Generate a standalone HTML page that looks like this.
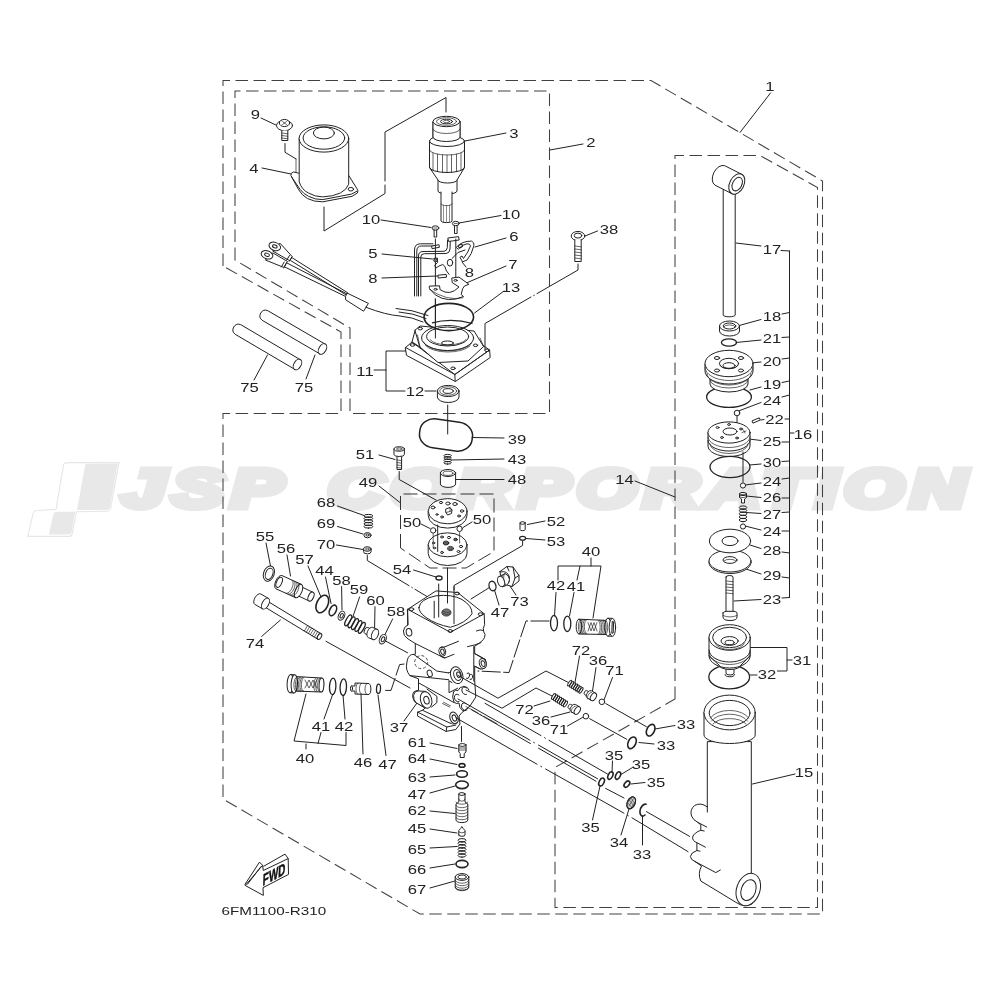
<!DOCTYPE html>
<html lang="en">
<head>
<meta charset="utf-8">
<title>Parts diagram 6FM1100-R310</title>
<style>
html,body{margin:0;padding:0;background:#fff}
body{width:1000px;height:1000px;overflow:hidden}
svg{display:block;will-change:transform}
.l{fill:none;stroke:#222;stroke-width:1;stroke-linecap:round;stroke-linejoin:round}
.f{fill:#fff;stroke:#222;stroke-width:1;stroke-linecap:round;stroke-linejoin:round}
.t{fill:none;stroke:#222;stroke-width:.7;stroke-linecap:round}
.k{fill:none;stroke:#222;stroke-width:1.6;stroke-linecap:round;stroke-linejoin:round}
.ld{fill:none;stroke:#222;stroke-width:1;stroke-dasharray:19 2.5}
.m{fill:none;stroke:#222;stroke-width:1.3}
.g2{fill:#ccc;stroke:#222;stroke-width:1}
.g{fill:#777;stroke:#222;stroke-width:.8}
.d{fill:none;stroke:#404040;stroke-width:1.05;stroke-dasharray:12.5 5.5}
.d2{fill:none;stroke:#333;stroke-width:1;stroke-dasharray:14 5}
.c{fill:none;stroke:#222;stroke-width:.9;stroke-dasharray:22 3 2 3}
.fine{fill:none;stroke:#222;stroke-width:.5}
.h{fill:none;stroke:#222;stroke-width:.8;stroke-dasharray:3 2}
.n{font-family:"Liberation Sans",Arial,Helvetica,sans-serif;font-size:13px;fill:#222;text-anchor:middle}
.w{font-family:"Liberation Sans",Arial,Helvetica,sans-serif;font-size:53px;font-weight:bold;font-style:italic;fill:#e8e8e8;stroke:#e8e8e8;stroke-width:7px;stroke-linejoin:miter;letter-spacing:5px}
.fw{font-family:"Liberation Sans",Arial,Helvetica,sans-serif;font-size:16.5px;font-weight:bold;fill:#111;stroke:#111;stroke-width:.5px}
.id{font-family:"Liberation Sans",Arial,Helvetica,sans-serif;font-size:11.7px;fill:#222}
</style>
</head>
<body>
<svg width="1000" height="1000" viewBox="0 0 1000 1000">
<rect width="1000" height="1000" fill="#fff"/>
<g class="wm">
<path d="M69,462.6 H119 L110.6,508.5 Q110,511.2 107,511.2 L76.4,511.8 L72.2,534 Q71.6,536.4 69,536.4 H27.8 L33.2,513 Q33.8,510.6 37,510.5 L56,509.4 L63.5,465 Q64,462.6 69,462.6 Z" fill="#fff" stroke="#e6e6e6" stroke-width="1.1"/>
<path d="M85.4,463.8 L117.8,463.4 L109.9,507.5 Q109.4,510 106.5,510 H77 Z" fill="#e8e8e8"/>
<path d="M57.5,511.8 H75.2 L71.5,532.5 Q71,534.6 68.5,534.6 H48.8 L53.5,514 Q54,511.8 57.5,511.8 Z" fill="#e8e8e8"/>
<text class="w" x="122" y="506.5" textLength="168" lengthAdjust="spacingAndGlyphs">JSP</text>
<text class="w" x="328" y="506.5" textLength="645" lengthAdjust="spacingAndGlyphs">CORPORATION</text>
</g>
<g id="frames">
<path class="d" d="M223,266 V80.5 H651 L822.5,181 V914 H420 L223,799 V413.5 H341 V332 Z"/>
<path class="d" d="M235,260 V91 H549.5 V413.5 H350 V328 Z"/>
<path class="d" d="M675,699 V155.5 H760 L817.5,187.5 V907.5 H555 V767.5 Z"/>
<path class="d2" d="M400.5,548 V494 H494 V551.5 L466,568 H430 Z"/>
</g>
<g id="labels">
<text class="n" transform="translate(770 90.7) scale(1.28 1)">1</text>
<text class="n" transform="translate(591 147.2) scale(1.28 1)">2</text>
<text class="n" transform="translate(514 137.7) scale(1.28 1)">3</text>
<text class="n" transform="translate(254 172.7) scale(1.28 1)">4</text>
<text class="n" transform="translate(255.5 118.7) scale(1.28 1)">9</text>
<text class="n" transform="translate(371 223.7) scale(1.28 1)">10</text>
<text class="n" transform="translate(511 219.2) scale(1.28 1)">10</text>
<text class="n" transform="translate(373 257.7) scale(1.28 1)">5</text>
<text class="n" transform="translate(514 240.7) scale(1.28 1)">6</text>
<text class="n" transform="translate(513 269.2) scale(1.28 1)">7</text>
<text class="n" transform="translate(373 282.7) scale(1.28 1)">8</text>
<text class="n" transform="translate(469.5 277.2) scale(1.28 1)">8</text>
<text class="n" transform="translate(511 292.2) scale(1.28 1)">13</text>
<text class="n" transform="translate(609 233.7) scale(1.28 1)">38</text>
<text class="n" transform="translate(249.5 391.7) scale(1.28 1)">75</text>
<text class="n" transform="translate(304 391.7) scale(1.28 1)">75</text>
<text class="n" transform="translate(365 375.7) scale(1.28 1)">11</text>
<text class="n" transform="translate(415 395.7) scale(1.28 1)">12</text>
<text class="n" transform="translate(517 443.7) scale(1.28 1)">39</text>
<text class="n" transform="translate(517 463.7) scale(1.28 1)">43</text>
<text class="n" transform="translate(517 484.2) scale(1.28 1)">48</text>
<text class="n" transform="translate(365 458.7) scale(1.28 1)">51</text>
<text class="n" transform="translate(368 487.2) scale(1.28 1)">49</text>
<text class="n" transform="translate(326 507.2) scale(1.28 1)">68</text>
<text class="n" transform="translate(326 527.7) scale(1.28 1)">69</text>
<text class="n" transform="translate(326 548.7) scale(1.28 1)">70</text>
<text class="n" transform="translate(412 526.7) scale(1.28 1)">50</text>
<text class="n" transform="translate(482 523.7) scale(1.28 1)">50</text>
<text class="n" transform="translate(556 525.7) scale(1.28 1)">52</text>
<text class="n" transform="translate(556 545.7) scale(1.28 1)">53</text>
<text class="n" transform="translate(402 573.7) scale(1.28 1)">54</text>
<text class="n" transform="translate(624.5 483.7) scale(1.28 1)">14</text>
<text class="n" transform="translate(265 541.2) scale(1.28 1)">55</text>
<text class="n" transform="translate(286 553.2) scale(1.28 1)">56</text>
<text class="n" transform="translate(304.5 564.2) scale(1.28 1)">57</text>
<text class="n" transform="translate(324.5 575.2) scale(1.28 1)">44</text>
<text class="n" transform="translate(341.5 584.7) scale(1.28 1)">58</text>
<text class="n" transform="translate(359 594.2) scale(1.28 1)">59</text>
<text class="n" transform="translate(375.5 604.7) scale(1.28 1)">60</text>
<text class="n" transform="translate(396 615.7) scale(1.28 1)">58</text>
<text class="n" transform="translate(255 647.7) scale(1.28 1)">74</text>
<text class="n" transform="translate(500 617.2) scale(1.28 1)">47</text>
<text class="n" transform="translate(519.5 605.7) scale(1.28 1)">73</text>
<text class="n" transform="translate(591 555.7) scale(1.28 1)">40</text>
<text class="n" transform="translate(556 590.2) scale(1.28 1)">42</text>
<text class="n" transform="translate(576 590.7) scale(1.28 1)">41</text>
<text class="n" transform="translate(581 654.7) scale(1.28 1)">72</text>
<text class="n" transform="translate(598 665.2) scale(1.28 1)">36</text>
<text class="n" transform="translate(614.5 675.2) scale(1.28 1)">71</text>
<text class="n" transform="translate(524.5 714.2) scale(1.28 1)">72</text>
<text class="n" transform="translate(541 724.7) scale(1.28 1)">36</text>
<text class="n" transform="translate(559 734.2) scale(1.28 1)">71</text>
<text class="n" transform="translate(321 730.7) scale(1.28 1)">41</text>
<text class="n" transform="translate(344 730.7) scale(1.28 1)">42</text>
<text class="n" transform="translate(305 762.7) scale(1.28 1)">40</text>
<text class="n" transform="translate(363 767.2) scale(1.28 1)">46</text>
<text class="n" transform="translate(387.5 768.7) scale(1.28 1)">47</text>
<text class="n" transform="translate(399 732.2) scale(1.28 1)">37</text>
<text class="n" transform="translate(417 747.2) scale(1.28 1)">61</text>
<text class="n" transform="translate(417 762.7) scale(1.28 1)">64</text>
<text class="n" transform="translate(417 782.2) scale(1.28 1)">63</text>
<text class="n" transform="translate(417 798.7) scale(1.28 1)">47</text>
<text class="n" transform="translate(417 815.2) scale(1.28 1)">62</text>
<text class="n" transform="translate(417 832.7) scale(1.28 1)">45</text>
<text class="n" transform="translate(417 853.7) scale(1.28 1)">65</text>
<text class="n" transform="translate(417 873.7) scale(1.28 1)">66</text>
<text class="n" transform="translate(417 893.7) scale(1.28 1)">67</text>
<text class="n" transform="translate(686 728.7) scale(1.28 1)">33</text>
<text class="n" transform="translate(666 750.2) scale(1.28 1)">33</text>
<text class="n" transform="translate(614 759.7) scale(1.28 1)">35</text>
<text class="n" transform="translate(641 768.7) scale(1.28 1)">35</text>
<text class="n" transform="translate(656 787.2) scale(1.28 1)">35</text>
<text class="n" transform="translate(590.5 831.7) scale(1.28 1)">35</text>
<text class="n" transform="translate(619 847.2) scale(1.28 1)">34</text>
<text class="n" transform="translate(642 858.7) scale(1.28 1)">33</text>
<text class="n" transform="translate(804 777.2) scale(1.28 1)">15</text>
<text class="n" transform="translate(772 253.7) scale(1.28 1)">17</text>
<text class="n" transform="translate(772 320.7) scale(1.28 1)">18</text>
<text class="n" transform="translate(772 342.7) scale(1.28 1)">21</text>
<text class="n" transform="translate(772 365.7) scale(1.28 1)">20</text>
<text class="n" transform="translate(772 389.2) scale(1.28 1)">19</text>
<text class="n" transform="translate(772 404.7) scale(1.28 1)">24</text>
<text class="n" transform="translate(774.5 424.2) scale(1.28 1)">22</text>
<text class="n" transform="translate(803 438.7) scale(1.28 1)">16</text>
<text class="n" transform="translate(772 445.7) scale(1.28 1)">25</text>
<text class="n" transform="translate(772 467.2) scale(1.28 1)">30</text>
<text class="n" transform="translate(772 485.7) scale(1.28 1)">24</text>
<text class="n" transform="translate(772 502.2) scale(1.28 1)">26</text>
<text class="n" transform="translate(772 518.7) scale(1.28 1)">27</text>
<text class="n" transform="translate(772 535.7) scale(1.28 1)">24</text>
<text class="n" transform="translate(772 554.7) scale(1.28 1)">28</text>
<text class="n" transform="translate(772 579.7) scale(1.28 1)">29</text>
<text class="n" transform="translate(772 603.7) scale(1.28 1)">23</text>
<text class="n" transform="translate(802 664.7) scale(1.28 1)">31</text>
<text class="n" transform="translate(767 678.7) scale(1.28 1)">32</text>
<text class="id" x="221.6" y="914.7" textLength="104.5" lengthAdjust="spacingAndGlyphs">6FM1100-R310</text>
</g>
<g id="leaders">
<line class="l" x1="770.5" y1="93" x2="740" y2="132.5"/>
<line class="l" x1="550" y1="150" x2="583" y2="144"/>
<line class="l" x1="465" y1="141" x2="506" y2="133"/>
<line class="l" x1="262" y1="168" x2="291" y2="174"/>
<line class="l" x1="261" y1="118" x2="278" y2="126"/>
<line class="l" x1="381" y1="220" x2="431" y2="227.5"/>
<line class="l" x1="459" y1="223" x2="501" y2="215.5"/>
<line class="l" x1="382" y1="254" x2="432.5" y2="259"/>
<line class="l" x1="475" y1="247" x2="506" y2="238"/>
<line class="l" x1="467.5" y1="282.5" x2="506" y2="266"/>
<line class="l" x1="382" y1="278" x2="437.5" y2="276"/>
<line class="l" x1="462" y1="262" x2="466" y2="267"/>
<line class="l" x1="474.5" y1="313" x2="504" y2="291"/>
<line class="l" x1="585" y1="236" x2="597.5" y2="231"/>
<line class="l" x1="267.5" y1="355" x2="254" y2="380"/>
<line class="l" x1="315" y1="355" x2="306" y2="379"/>
<line class="l" x1="472" y1="437.5" x2="504" y2="438"/>
<line class="l" x1="451" y1="460" x2="504" y2="459"/>
<line class="l" x1="455.5" y1="479.5" x2="504" y2="479.5"/>
<line class="l" x1="379" y1="455" x2="395" y2="459.5"/>
<line class="l" x1="379" y1="486" x2="400" y2="502.5"/>
<line class="l" x1="337.5" y1="506" x2="364" y2="515.5"/>
<line class="l" x1="337.5" y1="526.5" x2="363" y2="534"/>
<line class="l" x1="336.5" y1="545" x2="363" y2="549.5"/>
<line class="l" x1="421" y1="524" x2="430" y2="528.5"/>
<line class="l" x1="463" y1="527.5" x2="472" y2="522"/>
<line class="l" x1="527.5" y1="524.5" x2="545" y2="521"/>
<line class="l" x1="526" y1="538.5" x2="545" y2="540"/>
<line class="l" x1="413.5" y1="570" x2="436" y2="577"/>
<line class="l" x1="635" y1="481" x2="675" y2="497"/>
<line class="l" x1="266" y1="543" x2="270.5" y2="566"/>
<line class="l" x1="287" y1="555" x2="290.5" y2="576"/>
<line class="l" x1="308" y1="566" x2="321" y2="597"/>
<line class="l" x1="325.5" y1="577" x2="331" y2="603.5"/>
<line class="l" x1="341.6" y1="586.5" x2="342" y2="610"/>
<line class="l" x1="359.6" y1="597" x2="353" y2="616.5"/>
<line class="l" x1="375" y1="606.7" x2="374.6" y2="627.6"/>
<line class="l" x1="392.6" y1="619" x2="384" y2="636.5"/>
<line class="l" x1="261.7" y1="636.4" x2="280.4" y2="620"/>
<line class="l" x1="494.5" y1="590" x2="499" y2="605"/>
<line class="l" x1="510" y1="586" x2="516" y2="595"/>
<line class="l" x1="556" y1="592.5" x2="554.5" y2="616"/>
<line class="l" x1="574" y1="592.5" x2="569.5" y2="616"/>
<line class="l" x1="579.5" y1="656" x2="575" y2="682.5"/>
<line class="l" x1="596" y1="667.5" x2="592.5" y2="691"/>
<line class="l" x1="612.5" y1="677.5" x2="604" y2="700"/>
<line class="l" x1="534" y1="706" x2="550" y2="701"/>
<line class="l" x1="551" y1="717" x2="570" y2="712"/>
<line class="l" x1="567.5" y1="726" x2="582.5" y2="717.5"/>
<line class="l" x1="332.5" y1="695" x2="324" y2="719"/>
<line class="l" x1="343" y1="695" x2="345" y2="719"/>
<line class="l" x1="361" y1="694" x2="363" y2="754"/>
<line class="l" x1="378" y1="695" x2="386" y2="755.5"/>
<line class="l" x1="404" y1="721" x2="417" y2="703"/>
<line class="l" x1="430" y1="743" x2="457" y2="748.5"/>
<line class="l" x1="430" y1="759" x2="457" y2="764.5"/>
<line class="l" x1="430" y1="777" x2="455" y2="775"/>
<line class="l" x1="430" y1="793" x2="455" y2="786"/>
<line class="l" x1="430" y1="811" x2="455" y2="813.5"/>
<line class="l" x1="430" y1="829" x2="457" y2="833"/>
<line class="l" x1="430" y1="848" x2="457" y2="846.5"/>
<line class="l" x1="430" y1="868" x2="455" y2="864"/>
<line class="l" x1="430" y1="888" x2="455" y2="881"/>
<line class="l" x1="655" y1="729" x2="675" y2="725.5"/>
<line class="l" x1="639" y1="742.5" x2="654" y2="744"/>
<line class="l" x1="612.5" y1="761" x2="612" y2="772.5"/>
<line class="l" x1="632.5" y1="767.5" x2="621" y2="774.5"/>
<line class="l" x1="631" y1="784" x2="645" y2="782.5"/>
<line class="l" x1="600" y1="786" x2="592.5" y2="820"/>
<line class="l" x1="629" y1="809" x2="621" y2="835"/>
<line class="l" x1="642.5" y1="816" x2="642.5" y2="845"/>
<line class="l" x1="752.5" y1="784" x2="795" y2="774"/>
<line class="l" x1="736" y1="243" x2="761" y2="246"/>
<line class="l" x1="781" y1="250.5" x2="789.5" y2="251"/>
<line class="l" x1="737.5" y1="326" x2="761" y2="319.5"/>
<line class="l" x1="782" y1="314" x2="789.5" y2="312.5"/>
<line class="l" x1="736" y1="342.5" x2="761" y2="340"/>
<line class="l" x1="782" y1="337.5" x2="789.5" y2="337"/>
<line class="l" x1="751" y1="363" x2="761" y2="362"/>
<line class="l" x1="782" y1="359" x2="789.5" y2="358"/>
<line class="l" x1="750" y1="390" x2="761" y2="387"/>
<line class="l" x1="782" y1="382.5" x2="789.5" y2="381"/>
<line class="l" x1="738.5" y1="411" x2="761" y2="402.5"/>
<line class="l" x1="782" y1="397" x2="789.5" y2="395"/>
<line class="l" x1="761" y1="420" x2="764" y2="419.5"/>
<line class="l" x1="785" y1="419" x2="789.5" y2="419"/>
<line class="l" x1="789.5" y1="433" x2="794" y2="433"/>
<line class="l" x1="749" y1="439" x2="761" y2="440.5"/>
<line class="l" x1="782" y1="442" x2="789.5" y2="442"/>
<line class="l" x1="749.5" y1="465" x2="761" y2="464"/>
<line class="l" x1="782" y1="461.5" x2="789.5" y2="461"/>
<line class="l" x1="745" y1="485" x2="761" y2="483"/>
<line class="l" x1="782" y1="479" x2="789.5" y2="478"/>
<line class="l" x1="746" y1="496" x2="761" y2="497.5"/>
<line class="l" x1="782" y1="498" x2="789.5" y2="498"/>
<line class="l" x1="746" y1="512.5" x2="761" y2="513.5"/>
<line class="l" x1="782" y1="512.5" x2="789.5" y2="512"/>
<line class="l" x1="745" y1="526" x2="761" y2="530"/>
<line class="l" x1="782" y1="531" x2="789.5" y2="531"/>
<line class="l" x1="750" y1="545" x2="761" y2="548.5"/>
<line class="l" x1="782" y1="552" x2="789.5" y2="553"/>
<line class="l" x1="746" y1="569" x2="761" y2="574"/>
<line class="l" x1="782" y1="577" x2="789.5" y2="578"/>
<line class="l" x1="734" y1="601" x2="761" y2="599.5"/>
<line class="l" x1="782" y1="598" x2="789.5" y2="597.5"/>
<line class="l" x1="750" y1="675" x2="757" y2="675"/>
<line class="l" x1="789.5" y1="251" x2="789.5" y2="597.5"/>
<path class="l" d="M750,647.5 L787,647.5 L787,671 L777.5,671"/>
<line class="l" x1="787" y1="660" x2="792" y2="660"/>
<path class="l" d="M406,351 L386,351 L386,391 L405,391"/>
<line class="l" x1="374" y1="370" x2="386" y2="370"/>
<line class="l" x1="425" y1="391" x2="436" y2="391"/>
<path class="l" d="M558,580 L558,566 L601,566 L593,618"/>
<line class="l" x1="591" y1="558" x2="591" y2="566"/>
<line class="l" x1="580" y1="566" x2="577" y2="580"/>
<path class="l" d="M306,694 L294,741 L346,745.5 L346,732.5"/>
<line class="l" x1="306" y1="744" x2="306" y2="749"/>
<line class="l" x1="321" y1="732.5" x2="318" y2="743.5"/>
</g>
<g id="motor">
<ellipse class="f" cx="284.5" cy="125.5" rx="8" ry="5.2"/>
<ellipse class="f" cx="284.5" cy="123" rx="5.2" ry="3.6"/>
<line class="t" x1="282.5" y1="121.5" x2="286.5" y2="124.5"/>
<line class="t" x1="286.5" y1="121.5" x2="282.5" y2="124.5"/>
<path class="f" d="M281.8,130.5 V140.5 H287.8 V130.5"/>
<line class="t" x1="281.8" y1="133" x2="287.8" y2="133.8"/>
<line class="t" x1="281.8" y1="135.5" x2="287.8" y2="136.3"/>
<line class="t" x1="281.8" y1="138" x2="287.8" y2="138.8"/>
<path class="l" d="M285,143.5 L285,152.3 L296,158.9"/>
<path class="f" d="M293.1,172.1 Q290.5,173 290.9,175.4 L298.6,189.7 Q302,195.5 307.4,198.5 Q314,202 322.8,201.8 L352,196.3 L357.5,193 Q358.6,190.5 356.9,188.6 L348.7,175.4 L299.2,173.2 Z"/>
<path class="l" d="M291.6,177 L300.3,189.7 Q304,194.2 308.5,196.3 Q315,199.8 322.8,199.6 L351.4,194.1 L357,191.2"/>
<ellipse class="l" cx="350.9" cy="189.2" rx="2.7" ry="1.8"/>
<path class="f" d="M299.2,138.5 V182 Q302,190 308.5,193 Q315,196.9 322.8,196.9 Q333,196.5 340.4,193 Q347,189.5 348.7,184.2 V138.5 Z"/>
<ellipse class="f" cx="323.9" cy="138.5" rx="24.8" ry="13.6"/>
<ellipse class="l" cx="323.9" cy="138" rx="20.8" ry="11.2"/>
<ellipse class="l" cx="323.9" cy="133" rx="10.5" ry="5.9"/>
<line class="t" x1="296" y1="159" x2="296" y2="172"/>
<path class="l" d="M324,207 L324,231 L385,193.5 L385,185"/>
<path class="l" d="M385,181 L385,132 L446,97.5 L446,112"/>
<path class="f" d="M438,180 V191 A9.5,3 0 0 0 457,191 V180"/>
<path class="f" d="M441,192 V221 A5.5,1.6 0 0 0 452,221 V192"/>
<line class="fine" x1="443.5" y1="205" x2="443.5" y2="222"/>
<line class="fine" x1="446.5" y1="205" x2="446.5" y2="222"/>
<line class="fine" x1="449.5" y1="205" x2="449.5" y2="222"/>
<path class="t" d="M441,204 A5.5,1.6 0 0 0 452,204"/>
<path class="f" d="M429.5,141 V167.5 L438,180 A9.5,3 0 0 0 457,180 L464.5,167.5 V141 Z"/>
<path class="l" d="M429.5,167.5 A17.5,5 0 0 0 464.5,167.5"/>
<path class="t" d="M429.5,150 A17.5,5 0 0 0 464.5,150"/>
<line class="t" x1="433" y1="153" x2="433" y2="170.5"/>
<line class="t" x1="437.5" y1="154.2" x2="437.5" y2="171.7"/>
<line class="t" x1="442.5" y1="154.8" x2="442.5" y2="172.3"/>
<line class="t" x1="447" y1="155" x2="447" y2="172.5"/>
<line class="t" x1="451.5" y1="154.8" x2="451.5" y2="172.3"/>
<line class="t" x1="456.5" y1="154.2" x2="456.5" y2="171.7"/>
<line class="t" x1="461" y1="153" x2="461" y2="170.5"/>
<path class="f" d="M433,122 V138 A13.5,4.5 0 0 0 460,138 V122"/>
<ellipse class="f" cx="447" cy="141" rx="17.5" ry="5.5"/>
<path class="f" d="M433,122 V137 A13.5,4.5 0 0 0 460,137 V122 Z"/>
<path class="t" d="M433,129 A13.5,4.5 0 0 0 460,129"/>
<ellipse class="f" cx="446.5" cy="121.5" rx="13.5" ry="5.2"/>
<ellipse class="t" cx="446.5" cy="121.5" rx="10" ry="3.8"/>
<ellipse class="l" cx="446.5" cy="121.5" rx="6" ry="2.3"/>
<ellipse class="t" cx="446.5" cy="121.5" rx="3" ry="1.2"/>
<ellipse class="f" cx="435.4" cy="228" rx="3.4" ry="2.2"/>
<line class="t" x1="433.9" y1="228" x2="436.9" y2="228"/>
<path class="l" d="M434.1,230 V237 H436.7 V230"/>
<ellipse class="f" cx="455.8" cy="223.5" rx="3.4" ry="2.2"/>
<line class="t" x1="454.3" y1="223.5" x2="457.3" y2="223.5"/>
<path class="l" d="M454.5,225.5 V233.5 H457.1 V225.5"/>
<path class="l" d="M414.5,296 V250 Q414.5,243.8 420.5,243.8 H433"/>
<path class="l" d="M416.8,296 V251 Q416.8,246 421.5,246 H432.5"/>
<path class="l" d="M418.5,296 V256 Q418.5,251.5 423,251.5 L444,251.3 Q447,251 447.3,247.5 L447.6,240"/>
<path class="l" d="M420.8,296 V257 Q420.8,253.7 424.5,253.7 L446,253.5 Q449.8,253.2 450,249 L450.3,240.5"/>
<path class="f" d="M432,246 L439,244.7 L439.4,247.3 L432.4,248.6 Z"/>
<path class="f" d="M448.2,238 L458.5,236.6 L459.2,240 L449,241.4 Z"/>
<line class="l" x1="435.4" y1="239" x2="435.4" y2="289"/>
<line class="l" x1="435.4" y1="299" x2="435.4" y2="325"/>
<line class="l" x1="455.8" y1="239" x2="455.8" y2="279.5"/>
<path class="l" d="M433.8,258.5 L437.4,258 L437.6,262.5 L434.7,265.4 L436,268 L439,266 L442.8,264.5 Q445,265 446.4,270.8 L449.1,274.4"/>
<ellipse class="g" cx="435.5" cy="260.3" rx="1.9" ry="1.5"/>
<path class="l" d="M438.3,275.2 L446.2,274.4 L446.5,277.2 L438.6,278 Z"/>
<path class="l" d="M456.5,247 Q462,241 471.6,241.1 Q474.5,242.5 473.9,245.6 Q472,254 467.1,260 L462.6,261.8 L459.9,257.3 L462,256 L463.5,258.5 Q468.5,252 470.5,245.8 Q470,243.5 467,243.8 Q462,244.5 458.5,249 Z"/>
<ellipse class="l" cx="460.5" cy="246" rx="2.2" ry="1.5" transform="rotate(-30 460.5 246)"/>
<path class="l" d="M452,258.5 L458,252.5 L465,250"/>
<ellipse class="l" cx="450" cy="262.7" rx="2.7" ry="3.4"/>
<path class="f" d="M429.3,287.9 L429.3,286.1 L439.5,285.8 L440.1,289.7 Q450,296.5 459,287 L452.2,282.5 L451.8,278 L459,277.1 L468.9,284.3 L464.4,286.1 L462.6,288.8 L461.2,294.5 L463.5,296.5 Q448,303.5 435.6,295.1 Z"/>
<path class="t" d="M429.5,289.5 Q447,301.5 463,297.8"/>
<ellipse class="l" cx="435.5" cy="289.3" rx="1.6" ry="0.9"/>
<ellipse class="l" cx="455.6" cy="280.4" rx="1.6" ry="0.9"/>
<path class="f" d="M280.2,243.4 L292.2,256.6 L289.8,260.8 L273,251.2 Z"/>
<ellipse class="f" cx="274.8" cy="246.4" rx="6" ry="4" transform="rotate(20 274.8 246.4)"/>
<ellipse class="l" cx="274.8" cy="246.4" rx="2.4" ry="1.5" transform="rotate(20 274.8 246.4)"/>
<path class="f" d="M273,253 L287.4,261.4 L283.8,267.4 L265.8,260.2 Z"/>
<ellipse class="f" cx="267" cy="254.8" rx="6" ry="4" transform="rotate(20 267 254.8)"/>
<ellipse class="l" cx="267" cy="254.8" rx="2.4" ry="1.5" transform="rotate(20 267 254.8)"/>
<path class="l" d="M289.5,255.5 L286.8,260 M291.8,257 L289.3,261.3 M284.2,262 L281.3,267 M286.6,263 L283.8,268"/>
<line class="l" x1="292.2" y1="257.8" x2="347.4" y2="292.6"/>
<line class="l" x1="291" y1="260.8" x2="346.2" y2="295"/>
<line class="l" x1="287.4" y1="263.2" x2="346.8" y2="293.8"/>
<line class="l" x1="284.4" y1="266.8" x2="345" y2="296.2"/>
<path class="f" d="M347.4,293.2 L368.4,303.4 L363.6,311.2 L345.6,299.8 Q344.5,296 347.4,293.2 Z"/>
<path class="l" d="M366,307.3 Q386,315 400,316 Q412,317 423,322"/>
<path class="l" d="M396,308.5 Q412,309.5 428,315.5"/>
<path class="l" d="M399,312 Q413,313 426,318.5"/>
<path class="f" d="M405.6,347.5 L412,342 L454.8,374.5 L489.6,350 L490.2,357.5 L455.4,381.5 L406.8,355.5 Z"/>
<path class="l" d="M405.6,347.5 L454.8,374.5 L489.6,350 L483,345.5"/>
<line class="l" x1="454.8" y1="374.5" x2="455.2" y2="381.3"/>
<path class="f" d="M415.2,330 L420,326 L474,331 L483.6,346.5 L468,361 L438,362.5 L420,347 Z"/>
<path class="l" d="M415.2,330 L412,342 L420,347"/>
<path class="t" d="M420,347 L417.5,335"/>
<path class="t" d="M483.6,346.5 L480,338"/>
<ellipse class="f" cx="447.6" cy="338" rx="26" ry="12.5"/>
<path class="t" d="M423.5,342 A25,11 0 0 0 472,343"/>
<path class="t" d="M425.5,345.5 A24,10 0 0 0 470,346"/>
<ellipse class="l" cx="447.6" cy="336.5" rx="21" ry="9.5"/>
<path class="t" d="M430,339.5 A18.5,7 0 0 0 466,339.5"/>
<ellipse class="l" cx="447.5" cy="343" rx="6" ry="2"/>
<ellipse class="l" cx="412.5" cy="345" rx="2.2" ry="1.3"/>
<ellipse class="l" cx="453" cy="368.3" rx="2.2" ry="1.3"/>
<ellipse class="l" cx="475.5" cy="345.3" rx="2.2" ry="1.3"/>
<ellipse class="l" cx="487" cy="350.3" rx="2.2" ry="1.3"/>
<ellipse class="l" cx="420.3" cy="328.6" rx="2.2" ry="1.3"/>
<line class="l" x1="435.4" y1="299" x2="435.4" y2="338"/>
<ellipse class="k" cx="448.8" cy="317" rx="24.8" ry="13.6"/>
<path class="m" d="M432,322.8 Q452,317.5 472.5,323.5"/>
<ellipse class="f" cx="578" cy="236" rx="6.8" ry="4.6"/>
<ellipse class="l" cx="578" cy="235.6" rx="3.8" ry="2.5"/>
<path class="f" d="M574.8,240 V261.5 H581.2 V240"/>
<line class="t" x1="574.8" y1="246" x2="581.2" y2="246.8"/>
<line class="t" x1="574.8" y1="249" x2="581.2" y2="249.8"/>
<line class="t" x1="574.8" y1="252" x2="581.2" y2="252.8"/>
<line class="t" x1="574.8" y1="255" x2="581.2" y2="255.8"/>
<line class="t" x1="574.8" y1="258" x2="581.2" y2="258.8"/>
<path class="l" d="M578,264 L578,270 L537,293.6"/>
<line class="l" x1="534.3" y1="295.2" x2="533.7" y2="295.5"/>
<path class="l" d="M531,297 L485,323.5 L485,350"/>
<path class="f" d="M437.4,391 V397 A10.8,5.5 0 0 0 459,397 V391"/>
<ellipse class="f" cx="448.2" cy="391" rx="10.8" ry="5.6"/>
<ellipse class="t" cx="448.2" cy="391" rx="8.5" ry="4.2"/>
<ellipse class="l" cx="448.2" cy="391" rx="5.2" ry="2.4"/>
<line class="l" x1="447.7" y1="405" x2="447.7" y2="434"/>
<path class="f" d="M294.7,369.3 L235.2,334.3 A5.6,5.6 0 0 1 240.8,324.7 L300.3,359.7"/>
<ellipse class="f" cx="297.5" cy="364.5" rx="3.6" ry="5.8" transform="rotate(30 297.5 364.5)"/>
<path class="f" d="M319.7,353.8 L262.2,320.3 A5.6,5.6 0 0 1 267.8,310.7 L325.3,344.2"/>
<ellipse class="f" cx="322.5" cy="349" rx="3.6" ry="5.8" transform="rotate(30 322.5 349)"/>
</g>
<g id="cyl">
<path class="f" d="M723.2,186 V315 A6,1.8 0 0 0 735.2,315 V192"/>
<path class="f" d="M731.9,193.7 L714.9,185.1 A7.1,10.9 26.8 0 1 724.7,165.7 L741.7,174.3"/>
<ellipse class="f" cx="736.8" cy="184" rx="7.1" ry="10.9" transform="rotate(26.8 736.8 184)"/>
<ellipse class="l" cx="737.2" cy="184.1" rx="7.2" ry="4.6" transform="rotate(116.8 737.2 184.1)"/>
<path class="f" d="M719.5,326 V331 A10,5 0 0 0 739.5,331 V326"/>
<ellipse class="f" cx="729.5" cy="326" rx="10" ry="5"/>
<ellipse class="l" cx="729.5" cy="326" rx="6.3" ry="3"/>
<path class="t" d="M723.5,327 A6.3,3 0 0 1 735.5,327"/>
<ellipse class="m" cx="729" cy="342.5" rx="7.6" ry="3.6"/>
<ellipse class="m" cx="729" cy="397" rx="22.4" ry="10.4"/>
<path class="f" d="M710,372 V384 A19,8 0 0 0 748,384 V372 Z"/>
<path class="f" d="M705,364 V371 A24,13 0 0 0 753,371 V364 Z"/>
<path class="t" d="M705,367.5 A24,13 0 0 0 753,367.5"/>
<path class="t" d="M707,373.5 A22,11.5 0 0 0 751,373.5"/>
<path class="t" d="M710,380 A19,8 0 0 0 748,380"/>
<ellipse class="f" cx="729" cy="363.5" rx="24" ry="13.2"/>
<ellipse class="l" cx="729" cy="363.5" rx="9.6" ry="5.2"/>
<path class="t" d="M720,365 A9.2,4.6 0 0 0 738,365"/>
<ellipse class="l" cx="729" cy="365.5" rx="6" ry="2.8"/>
<ellipse class="l" cx="717" cy="358" rx="2.6" ry="1.5"/>
<ellipse class="l" cx="741" cy="358" rx="2.6" ry="1.5"/>
<ellipse class="l" cx="717" cy="370.5" rx="2.6" ry="1.5"/>
<ellipse class="l" cx="741" cy="370.5" rx="2.6" ry="1.5"/>
<ellipse class="f" cx="737" cy="413" rx="2.8" ry="2.8"/>
<line class="l" x1="737" y1="416" x2="737" y2="425"/>
<path class="f" d="M752.3,420.8 L759.3,417.8 L760.3,420 L753.3,423 Z"/>
<path class="f" d="M708,432.5 V446 A21,10.5 0 0 0 750,446 V432.5 Z"/>
<path class="t" d="M708,437 A21,10.5 0 0 0 750,437"/>
<path class="l" d="M708,440.5 A21,10.5 0 0 0 750,440.5"/>
<path class="t" d="M710,444 A19,9.5 0 0 0 748,444"/>
<ellipse class="f" cx="729" cy="432.5" rx="21" ry="10.6"/>
<ellipse class="l" cx="730" cy="431.5" rx="7" ry="3.5"/>
<ellipse class="l" cx="717.5" cy="427.5" rx="1.5" ry="0.9"/>
<ellipse class="l" cx="722" cy="437.5" rx="1.5" ry="0.9"/>
<ellipse class="l" cx="737" cy="438" rx="1.5" ry="0.9"/>
<ellipse class="l" cx="741" cy="429" rx="1.5" ry="0.9"/>
<ellipse class="l" cx="729" cy="424.5" rx="1.5" ry="0.9"/>
<path class="t" d="M743.5,430 L745,433 M742,432.5 L746,431"/>
<line class="l" x1="743" y1="452" x2="743" y2="482"/>
<ellipse class="m" cx="730" cy="467" rx="20" ry="10.6"/>
<ellipse class="f" cx="743" cy="485.5" rx="2.6" ry="2.6"/>
<path class="f" d="M739.5,494 V497.5 L741.5,499 V503 H744.5 V499 L746.5,497.5 V494 Z"/>
<ellipse class="f" cx="743" cy="494" rx="3.5" ry="1.6"/>
<ellipse class="t" cx="743" cy="496" rx="3.5" ry="1.6"/>
<ellipse class="l" cx="743" cy="507.6" rx="1.7" ry="3.8" transform="rotate(90 743 507.6)"/>
<ellipse class="l" cx="743" cy="510.6" rx="1.7" ry="3.8" transform="rotate(90 743 510.6)"/>
<ellipse class="l" cx="743" cy="513.8" rx="1.7" ry="3.8" transform="rotate(90 743 513.8)"/>
<ellipse class="l" cx="743" cy="516.9" rx="1.7" ry="3.8" transform="rotate(90 743 516.9)"/>
<ellipse class="l" cx="743" cy="520" rx="1.7" ry="3.8" transform="rotate(90 743 520)"/>
<ellipse class="f" cx="743" cy="526.5" rx="2.6" ry="2.6"/>
<ellipse class="f" cx="730" cy="562.5" rx="21" ry="11"/>
<ellipse class="f" cx="730" cy="561" rx="21" ry="11"/>
<ellipse class="l" cx="730" cy="560" rx="7" ry="3.4"/>
<path class="t" d="M724,561 A6.5,2.8 0 0 1 736,561"/>
<ellipse class="f" cx="730" cy="541" rx="20.6" ry="11.8"/>
<ellipse class="l" cx="730" cy="541" rx="8" ry="4.6"/>
<path class="f" d="M726,577 V612 H733 V577 A3.5,1.5 0 0 0 726,577 Z"/>
<line class="t" x1="726" y1="581" x2="733" y2="581.7"/>
<line class="t" x1="726" y1="584" x2="733" y2="584.7"/>
<line class="t" x1="726" y1="587" x2="733" y2="587.7"/>
<line class="t" x1="726" y1="590" x2="733" y2="590.7"/>
<line class="t" x1="726" y1="593" x2="733" y2="593.7"/>
<path class="f" d="M723,613 V617 Q723,620.5 730,620.5 Q737,620.5 737,617 V613 Q737,611 730,611.3 Q723,611 723,613 Z"/>
<path class="t" d="M723,615.5 Q730,618.5 737,615.5"/>
<ellipse class="m" cx="729.2" cy="677" rx="20.4" ry="11.8"/>
<path class="f" d="M726,664 V673 A4,2 0 0 0 734,673 V664 Z"/>
<path class="l" d="M725,674.5 A4.6,2.2 0 0 0 734.5,674.5"/>
<path class="f" d="M709,637.5 V656 L719,665 A11,4.5 0 0 0 741,665 L750.2,656 V637.5 Z"/>
<path class="l" d="M709,650 A20.6,12 0 0 0 750.2,650"/>
<path class="t" d="M709,652.5 A20.6,12 0 0 0 750.2,652.5"/>
<path class="l" d="M709,656 A20.6,12 0 0 0 750.2,656"/>
<ellipse class="f" cx="729.6" cy="637.5" rx="20.6" ry="12.8"/>
<ellipse class="l" cx="729.6" cy="637.5" rx="17" ry="10.2"/>
<path class="t" d="M715,643 A15,8 0 0 0 744.5,643"/>
<ellipse class="l" cx="729.6" cy="641" rx="8.6" ry="4.4"/>
<ellipse class="l" cx="729.6" cy="642.5" rx="4.6" ry="2.2"/>
<path class="f" d="M707.3,742 V807 Q700.8,802 694.5,805.5 Q689.5,810 691.5,816 Q693,820 698,822.5 L700.8,825 V830.3 Q694.3,832.5 692.6,837 Q692.3,841 696.9,842.7 V850.5 Q690.8,852.5 690.4,856.5 Q690.8,860 695,861.5 L701.5,866.1 Q697.5,873.5 700.8,881 L737.2,903.1 Q745,908 752,904 L760,880 L751.3,873.2 V742 Z"/>
<path class="l" d="M707.3,806.9 V812.1 M698,822.5 L706.7,827 M700.8,830.3 L704.2,831 M696.9,842.7 L705.4,847.2 M696.9,850.5 L700,851.2 M695,861.5 L715.8,872.6 L720.3,870"/>
<ellipse class="f" cx="748.3" cy="889.5" rx="11.6" ry="16.6" transform="rotate(20 748.3 889.5)"/>
<ellipse class="l" cx="748.5" cy="890.1" rx="7.2" ry="10.8" transform="rotate(20 748.5 890.1)"/>
<path class="f" d="M704,712.5 V735 A25.6,8.5 0 0 0 755.2,735 V712.5 Z"/>
<ellipse class="f" cx="729.6" cy="712.5" rx="25.6" ry="17.4"/>
<ellipse class="l" cx="729.6" cy="713" rx="20.4" ry="12.6"/>
<path class="t" d="M710.5,718 A20,11 0 0 1 748.5,718"/>
<path class="t" d="M711.5,721 A19,10 0 0 1 747.5,721"/>
<path class="t" d="M713,724 A18,9 0 0 1 746,724"/>
</g>
<g id="valve">
<rect class="k" x="419.5" y="420.5" width="53" height="29" rx="15" ry="13" transform="rotate(8 446 435)" style="stroke-width:1.5"/>
<ellipse class="l" cx="447.6" cy="455.7" rx="1.3" ry="3.8" transform="rotate(90 447.6 455.7)"/>
<ellipse class="l" cx="447.6" cy="458.1" rx="1.3" ry="3.8" transform="rotate(90 447.6 458.1)"/>
<ellipse class="l" cx="447.6" cy="460.4" rx="1.3" ry="3.8" transform="rotate(90 447.6 460.4)"/>
<ellipse class="l" cx="447.6" cy="462.8" rx="1.3" ry="3.8" transform="rotate(90 447.6 462.8)"/>
<path class="f" d="M440.4,473 V484 A7.6,3.4 0 0 0 455.6,484 V473 Z"/>
<ellipse class="f" cx="448" cy="473" rx="7.6" ry="3.5"/>
<ellipse class="t" cx="448" cy="473.3" rx="5" ry="2.1"/>
<path class="f" d="M394,449 V454.5 A5.2,2 0 0 0 404.4,454.5 V449 Z"/>
<ellipse class="f" cx="399.2" cy="449" rx="5.2" ry="2.2"/>
<ellipse class="t" cx="399.2" cy="449" rx="2.8" ry="1.1"/>
<path class="f" d="M397,457 V469.5 H401.6 V457"/>
<line class="t" x1="397" y1="460" x2="401.6" y2="460.6"/>
<line class="t" x1="397" y1="462.5" x2="401.6" y2="463.1"/>
<line class="t" x1="397" y1="465" x2="401.6" y2="465.6"/>
<line class="t" x1="397" y1="467.5" x2="401.6" y2="468.1"/>
<path class="l" d="M399.2,471.5 L399.2,479.5 L437.7,501 L437.7,518.5"/>
<path class="f" d="M428.2,511.2 V515.5 A19.4,12.6 0 0 0 467,515.5 V511.2 Z"/>
<ellipse class="f" cx="447.6" cy="511.2" rx="19.4" ry="12.6"/>
<path class="f" d="M446,509 L450,507.5 L452,510 L451.5,513.5 L447.5,515 L446,512.5 Z"/>
<line class="t" x1="450" y1="507.5" x2="450" y2="511.5"/>
<path class="t" d="M446,512.5 L450,511.5 L452,510"/>
<ellipse class="l" cx="441" cy="502.5" rx="1.6" ry="1.1"/>
<ellipse class="l" cx="448" cy="503.5" rx="2.2" ry="1.5"/>
<ellipse class="l" cx="455" cy="504" rx="2.2" ry="1.5"/>
<ellipse class="l" cx="433" cy="507.5" rx="2" ry="1.4"/>
<ellipse class="l" cx="462" cy="511" rx="1.7" ry="1.2"/>
<ellipse class="l" cx="459" cy="516" rx="1.5" ry="1"/>
<ellipse class="l" cx="442" cy="517" rx="1.4" ry="1"/>
<ellipse class="l" cx="437" cy="514.5" rx="1.1" ry="0.8"/>
<path class="f" d="M428.2,544.8 V553.5 A19.4,12 0 0 0 467,553.5 V544.8 Z"/>
<ellipse class="f" cx="447.6" cy="544.8" rx="19.4" ry="12"/>
<ellipse class="l" cx="442" cy="537" rx="1.5" ry="1"/>
<ellipse class="l" cx="449" cy="537.5" rx="1.6" ry="1.1"/>
<ellipse class="l" cx="455.5" cy="539.5" rx="1.8" ry="1.3"/>
<ellipse class="l" cx="446" cy="543" rx="2.8" ry="2"/>
<ellipse class="l" cx="450.5" cy="548.5" rx="3" ry="2.1"/>
<ellipse class="l" cx="461" cy="546.5" rx="1.6" ry="1.1"/>
<ellipse class="l" cx="458.5" cy="551.5" rx="1.4" ry="1"/>
<ellipse class="l" cx="442" cy="552.5" rx="1.4" ry="1"/>
<ellipse class="l" cx="433.5" cy="543" rx="1.2" ry="0.8"/>
<ellipse class="l" cx="434.5" cy="548" rx="1.2" ry="0.8"/>
<ellipse class="g" cx="446" cy="543.2" rx="1.8" ry="1.1"/>
<ellipse class="g" cx="450.5" cy="548.8" rx="2" ry="1.2"/>
<ellipse class="g" cx="455.5" cy="539.5" rx="1" ry="0.7"/>
<line class="l" x1="437.7" y1="525" x2="437.7" y2="551.5"/>
<ellipse class="f" cx="433.2" cy="530.4" rx="2.7" ry="2.7"/>
<ellipse class="f" cx="459.6" cy="528.8" rx="2.7" ry="2.7"/>
<line class="t" x1="433.2" y1="533.6" x2="433.2" y2="548"/>
<line class="t" x1="459.6" y1="532" x2="459.6" y2="543"/>
<ellipse class="l" cx="368.4" cy="515.9" rx="1.5" ry="4.5" transform="rotate(90 368.4 515.9)"/>
<ellipse class="l" cx="368.4" cy="518.5" rx="1.5" ry="4.5" transform="rotate(90 368.4 518.5)"/>
<ellipse class="l" cx="368.4" cy="521.2" rx="1.5" ry="4.5" transform="rotate(90 368.4 521.2)"/>
<ellipse class="l" cx="368.4" cy="524" rx="1.5" ry="4.5" transform="rotate(90 368.4 524)"/>
<ellipse class="l" cx="368.4" cy="526.6" rx="1.5" ry="4.5" transform="rotate(90 368.4 526.6)"/>
<ellipse class="f" cx="367.5" cy="535.2" rx="3.6" ry="2.6"/>
<ellipse class="l" cx="367.5" cy="535" rx="1.6" ry="1.1"/>
<path class="f" d="M363.5,549 V551.5 A3.8,2.4 0 0 0 371.1,551.5 V549 Z"/>
<ellipse class="f" cx="367.3" cy="549" rx="3.8" ry="2.3"/>
<ellipse class="t" cx="367.3" cy="549" rx="1.8" ry="1"/>
<path class="l" d="M367.3,555.5 L367.3,560.5 L409,585.7"/>
<line class="l" x1="411.8" y1="587.4" x2="412.4" y2="587.8"/>
<path class="l" d="M415,589.3 L434.2,600.8 L434.2,603"/>
<path class="f" d="M520,523 V529.5 A2.6,1.2 0 0 0 525.2,529.5 V523 Z"/>
<ellipse class="f" cx="522.6" cy="523" rx="2.6" ry="1.3"/>
<ellipse class="m" cx="522.6" cy="538.2" rx="3" ry="1.9"/>
<path class="l" d="M522.6,541 L522.6,545.5 L454,585.5 L454,590"/>
<ellipse class="m" cx="439" cy="578" rx="3.1" ry="2"/>
<path class="f" d="M500,571.5 L507,566.5 L513,567 L519,575.5 L519,581 L512,586.5 L507,585 Q500,580 500,571.5 Z"/>
<path class="l" d="M513,567 L515,578 L512,586.5 M515,578 L519,575.5 M507,566.5 L509,571"/>
<path class="l" d="M500.5,572 Q507,570 509.5,577 Q510,583 507,585"/>
<path class="f" d="M499.5,576.3 L505,573.6 Q509,575 509.5,579.5 Q509,584 506,585.5 L502.3,586.8 Z"/>
<path class="t" d="M505,573.6 Q501.5,577 506,585.5 M503.5,574.4 Q500,578 504.4,586 M502,575.2 Q498.8,579 503,586.5"/>
<ellipse class="f" cx="501" cy="581.5" rx="3.3" ry="5.3" transform="rotate(-20 501 581.5)"/>
<ellipse class="m" cx="492.5" cy="586" rx="3.4" ry="4.8" transform="rotate(-15 492.5 586)"/>
<line class="l" x1="489.5" y1="587.5" x2="471" y2="599"/>
<path class="f" d="M407.7,609.3 L436,590.9 L457.6,592.5 L484.2,613.8 L484.6,624.6 Q482.5,628.5 483.7,631.8 Q486,634.5 484.6,637.2 Q483.5,641 474.7,646.2 V653.6 L485.4,659.5 Q487.5,663.5 485,667.5 Q483,669.8 480.1,668.9 L474.7,666.2 V681 L475.8,697 L470,706 L462,712.5 L459,716 L460,724 L455.8,729.5 L446,731.4 L417.6,716.1 V712.1 L422.5,710.3 L425.2,708 L416.2,702.6 Q411.5,698 414,692.5 Q415.5,690.5 418.5,690.5 V678.8 L409.9,675.6 Q405.2,670 406.8,663 Q407.5,656 411.7,654.5 L415.3,654.3 V643.5 L408.1,639 Q403,636 403.4,631 Q404,626.5 407.7,625 Z"/>
<path class="l" d="M417.6,712.1 L446.8,727 L455.8,725.1 M422.5,710.3 L450.4,723.3 M446.8,727 L446.2,731.2"/>
<ellipse class="f" cx="454" cy="717.9" rx="4" ry="6" transform="rotate(-20 454 717.9)"/>
<ellipse class="l" cx="454.3" cy="718" rx="2" ry="3.2" transform="rotate(-20 454.3 718)"/>
<path class="t" d="M450.4,723.3 Q453,725.5 456.5,723"/>
<line class="t" x1="442.5" y1="703.5" x2="449.5" y2="707"/>
<line class="t" x1="443.5" y1="702.3" x2="450.5" y2="705.8"/>
<path class="l" d="M418.5,682.8 L454,702.6 M427,689.1 L436.9,696.3 V702.6 L431.5,707.1 M449,681 V692.7 L457.6,688.2"/>
<ellipse class="f" cx="416.4" cy="697.2" rx="3.4" ry="6" transform="rotate(-15 416.4 697.2)"/>
<path class="f" d="M417.1,690.9 L426.1,691.4 L425.2,708 L416.2,702.8 Q413.2,700 413.6,695.5 Q414.2,691.5 417.1,690.9 Z"/>
<ellipse class="f" cx="426.1" cy="699.9" rx="5.6" ry="8.4" transform="rotate(-15 426.1 699.9)"/>
<ellipse class="l" cx="426.5" cy="700.2" rx="2.6" ry="3.9" transform="rotate(-15 426.5 700.2)"/>
<path class="l" d="M414.4,654.9 L436.9,671.1 L448.6,672.9 M409.9,675.6 L448.6,679.7"/>
<ellipse class="h" cx="421.2" cy="662.1" rx="6.5" ry="6.5"/>
<ellipse class="l" cx="429.7" cy="673.4" rx="2.4" ry="3.4" transform="rotate(-20 429.7 673.4)"/>
<ellipse class="f" cx="456.7" cy="675.2" rx="6" ry="8.6" transform="rotate(-18 456.7 675.2)"/>
<ellipse class="l" cx="457.5" cy="675" rx="3.6" ry="5.6" transform="rotate(-18 457.5 675)"/>
<ellipse class="l" cx="458.6" cy="674.7" rx="1.8" ry="2.8" transform="rotate(-18 458.6 674.7)"/>
<path class="l" d="M467,673.5 Q470,671.5 469.5,676 Q468.5,679.5 466.5,678.5 M470.5,674.5 Q473,673.5 472.5,677.5 Q471.5,680.5 470,679.5"/>
<path class="l" d="M448.6,672.9 Q450,673 451,671 M452,682.5 L449,681"/>
<path class="l" d="M453.5,692 Q455,689 458,690.5 Q459.5,686.5 464,686.5 Q468,686.5 469,690 M453.5,692 Q451.5,697 454,702 Q456,704.5 459,703 Q459,708 462.5,710.5 Q466.5,711.5 468,708"/>
<path class="l" d="M466.5,687.8 A3,4 -20 1 0 466.5,694.5 M459,695 A3,4 -20 1 0 459,701.7 M466,703.6 A3,4 -20 1 0 466,710.4"/>
<path class="l" d="M474.7,653.6 L485.4,659.5 M474.7,666.2 L480.1,668.9"/>
<ellipse class="f" cx="482.8" cy="663.5" rx="3.4" ry="5" transform="rotate(-18 482.8 663.5)"/>
<ellipse class="l" cx="483.1" cy="663.6" rx="1.8" ry="3" transform="rotate(-18 483.1 663.6)"/>
<line class="l" x1="473.8" y1="646.5" x2="473.8" y2="681"/>
<path class="l" d="M407.7,609.3 L450.4,632.3 L484.2,613.8"/>
<path class="l" d="M407.7,609.3 V625 M415.3,643.5 L444.1,657.9 M445,657.9 L454,654.3 M444.1,647.1 L458.5,641.3 M476.5,630.9 Q480,629 483.7,630.5 M467.5,646.7 Q476,645 481,642.6"/>
<ellipse class="f" cx="442.3" cy="651.6" rx="3.3" ry="4.6" transform="rotate(-15 442.3 651.6)"/>
<ellipse class="l" cx="442.5" cy="651.7" rx="1.7" ry="2.8" transform="rotate(-15 442.5 651.7)"/>
<path class="l" d="M440.5,647.6 Q442,646.5 444.1,647.1 M440.6,656 Q442.5,658 445,657.9"/>
<ellipse class="l" cx="409" cy="632.3" rx="2.8" ry="3.8" transform="rotate(-10 409 632.3)"/>
<path class="l" d="M418.9,607.5 Q420,599 436,595.8 Q452,594 462,599.5 Q472.5,606 472,613.8 Q466,623 450.4,627.3 Q436,624.5 426,617.5 Q418.5,612 418.9,607.5 Z"/>
<ellipse class="l" cx="411.5" cy="609.2" rx="2.3" ry="1.4"/>
<ellipse class="l" cx="450.3" cy="631" rx="2.3" ry="1.4"/>
<ellipse class="l" cx="480.5" cy="614.2" rx="2.3" ry="1.4"/>
<ellipse class="l" cx="457.2" cy="593.5" rx="2.3" ry="1.4"/>
<ellipse class="g" cx="446.4" cy="612.5" rx="4.6" ry="3.6"/>
<path class="fine" d="M442.5,611 Q446,613.5 450.5,612 M442.5,613 Q446,615.5 450.5,614"/>
<line class="l" x1="434.2" y1="601.2" x2="434.2" y2="618"/>
<line class="l" x1="438.7" y1="584" x2="438.7" y2="617"/>
<line class="l" x1="447.5" y1="568" x2="447.5" y2="603"/>
<line class="l" x1="454" y1="586.8" x2="454" y2="623.7"/>
</g>
<g id="pipelines">
<path class="l" d="M458,675.4 L498,698.2 L546,671 L568,682.3"/>
<path class="l" d="M466,690 L502,708.2 L536,688 L552,696"/>
<path class="ld" d="M549.5,621 L526,621 L509,672.5 L477.5,671"/>
<line class="l" x1="485" y1="703.3" x2="541" y2="735.6"/>
<line class="l" x1="544.6" y1="737.7" x2="545.4" y2="738.2"/>
<line class="l" x1="549" y1="740.3" x2="607.5" y2="774"/>
<line class="l" x1="458" y1="699" x2="530" y2="740.2"/>
<line class="l" x1="533.6" y1="742.3" x2="534.4" y2="742.8"/>
<line class="l" x1="538.5" y1="745.1" x2="597.6" y2="778.8"/>
<line class="l" x1="471.6" y1="709.8" x2="530.5" y2="743.6"/>
<line class="l" x1="538.5" y1="748.2" x2="596" y2="781.2"/>
<line class="l" x1="456" y1="717.8" x2="537" y2="764.2"/>
<line class="l" x1="540.8" y1="766.4" x2="541.6" y2="766.8"/>
<line class="l" x1="545.6" y1="769" x2="624" y2="813.2"/>
<line class="l" x1="627.5" y1="815.2" x2="628.3" y2="815.7"/>
<line class="l" x1="632" y1="817.8" x2="688" y2="851.6"/>
<line class="l" x1="605.6" y1="788.4" x2="624" y2="798"/>
<line class="l" x1="646.4" y1="811.6" x2="689.6" y2="836.4"/>
<line class="l" x1="605.8" y1="703.6" x2="646.4" y2="726.7"/>
<line class="l" x1="589.7" y1="718.7" x2="626.8" y2="739.3"/>
<path class="t" d="M466,706.5 L478,713 M480.5,714.4 L481.2,714.8 M484,716.4 L497,723.6"/>
</g>
<g id="left">
<ellipse class="f" cx="268.9" cy="573.6" rx="5.3" ry="7.8" transform="rotate(20 268.9 573.6)"/>
<ellipse class="l" cx="269.2" cy="573.8" rx="3.6" ry="5.8" transform="rotate(20 269.2 573.8)"/>
<path class="f" d="M309,600.9 L296,594.8 A2.6,4.8 25.1 0 1 300,586.2 L313,592.3"/>
<ellipse class="f" cx="311" cy="596.6" rx="2.6" ry="4.8" transform="rotate(25.1 311 596.6)"/>
<path class="f" d="M295.5,597.6 L276,588.8 A3.4,7.2 24.3 0 1 282,575.6 L301.5,584.4"/>
<ellipse class="f" cx="298.5" cy="591" rx="3.4" ry="7.2" transform="rotate(24.3 298.5 591)"/>
<path class="t" d="M292.1,580.2 A3.4,7.2 24.3 0 1 286.2,593.3"/>
<path class="t" d="M294,581.1 A3.4,7.2 24.3 0 1 288.1,594.2"/>
<path class="t" d="M296,582 A3.4,7.2 24.3 0 1 290.1,595.1"/>
<path class="t" d="M297.9,582.9 A3.4,7.2 24.3 0 1 292,596"/>
<ellipse class="l" cx="279.2" cy="582.3" rx="2.6" ry="5.4" transform="rotate(24 279.2 582.3)"/>
<ellipse class="k" cx="322.3" cy="604" rx="5.6" ry="9.3" transform="rotate(25 322.3 604)"/>
<ellipse class="k" cx="332.9" cy="610.4" rx="3.2" ry="5.6" transform="rotate(25 332.9 610.4)"/>
<ellipse class="f" cx="341.5" cy="615.7" rx="3" ry="4.8" transform="rotate(25 341.5 615.7)"/>
<ellipse class="l" cx="341.7" cy="615.8" rx="1.4" ry="2.4" transform="rotate(25 341.7 615.8)"/>
<ellipse class="m" cx="348.2" cy="620.4" rx="2.1" ry="6" transform="rotate(28.7 348.2 620.4)"/>
<ellipse class="m" cx="351.6" cy="622.3" rx="2.1" ry="6" transform="rotate(28.7 351.6 622.3)"/>
<ellipse class="m" cx="355" cy="624.1" rx="2.1" ry="6" transform="rotate(28.7 355 624.1)"/>
<ellipse class="m" cx="358.4" cy="626" rx="2.1" ry="6" transform="rotate(28.7 358.4 626)"/>
<ellipse class="m" cx="361.8" cy="627.9" rx="2.1" ry="6" transform="rotate(28.7 361.8 627.9)"/>
<path class="f" d="M369.1,635.6 L365,633.7 A2,3.4 24.9 0 1 367.8,627.5 L371.9,629.4"/>
<ellipse class="f" cx="370.5" cy="632.5" rx="2" ry="3.4" transform="rotate(24.9 370.5 632.5)"/>
<path class="f" d="M372.9,639.5 L368.4,637.6 A3.2,5.5 22.9 0 1 372.6,627.4 L377.1,629.3"/>
<ellipse class="f" cx="375" cy="634.4" rx="3.2" ry="5.5" transform="rotate(22.9 375 634.4)"/>
<ellipse class="f" cx="382.8" cy="639.2" rx="3.2" ry="5" transform="rotate(25 382.8 639.2)"/>
<ellipse class="l" cx="383" cy="639.3" rx="1.5" ry="2.6" transform="rotate(25 383 639.3)"/>
<line class="l" x1="385.5" y1="641" x2="407.6" y2="652.8"/>
<path class="f" d="M317.8,639.2 L264.3,606.7 A1.8,3.2 31.3 0 1 267.7,601.3 L321.2,633.8"/>
<ellipse class="f" cx="319.5" cy="636.5" rx="1.8" ry="3.2" transform="rotate(31.3 319.5 636.5)"/>
<line class="t" x1="307.7" y1="625.5" x2="304.3" y2="631.1"/>
<line class="t" x1="309.7" y1="626.7" x2="306.3" y2="632.3"/>
<line class="t" x1="311.7" y1="627.9" x2="308.3" y2="633.5"/>
<line class="t" x1="313.7" y1="629.1" x2="310.3" y2="634.7"/>
<line class="t" x1="315.7" y1="630.4" x2="312.3" y2="636"/>
<line class="t" x1="317.7" y1="631.6" x2="314.3" y2="637.2"/>
<line class="t" x1="319.7" y1="632.8" x2="316.3" y2="638.4"/>
<path class="f" d="M262.5,608.8 L254.8,604.4 A3.2,6 29.7 0 1 260.8,594 L268.5,598.4"/>
<ellipse class="f" cx="265.5" cy="603.6" rx="3.2" ry="6" transform="rotate(29.7 265.5 603.6)"/>
<line class="l" x1="326" y1="641.3" x2="410" y2="688"/>
<path class="f" d="M294,676.5 L321.5,678 A2.4,7 3 0 1 321,692 L293.5,691 Z"/>
<ellipse class="f" cx="321.5" cy="685" rx="2.4" ry="7" transform="rotate(3 321.5 685)"/>
<path class="f" d="M290.5,674.5 L294.5,674.8 L294,693 L290,692.7"/>
<ellipse class="f" cx="290.3" cy="683.6" rx="3.2" ry="9.2" transform="rotate(3 290.3 683.6)"/>
<ellipse class="f" cx="294.3" cy="683.9" rx="3.2" ry="9.2" transform="rotate(3 294.3 683.9)"/>
<path class="t" d="M296.5,677 A2.4,7 3 0 0 296.2,691.3"/>
<path class="t" d="M298,677 A2.4,7 3 0 0 297.7,691.3"/>
<path class="t" d="M299.5,677 A2.4,7 3 0 0 299.2,691.3"/>
<path class="t" d="M301,677 A2.4,7 3 0 0 300.7,691.3"/>
<path class="t" d="M302.5,677 A2.4,7 3 0 0 302.2,691.3"/>
<path class="t" d="M304,677 A2.4,7 3 0 0 303.7,691.3"/>
<path class="t" d="M305,680 L309,688 L313,680 L317,688 M305,688 L309,680 L313,688 L317,680"/>
<path class="t" d="M318,678 A2.4,7 3 0 0 317.7,691.8 M316,678 A2.4,7 3 0 0 315.7,691.7 M320,678 A2.4,7 3 0 0 319.7,691.9"/>
<ellipse class="m" cx="332.7" cy="686.4" rx="3.2" ry="8.3" transform="rotate(3 332.7 686.4)"/>
<ellipse class="m" cx="343.3" cy="687.2" rx="3.2" ry="8.3" transform="rotate(3 343.3 687.2)"/>
<path class="f" d="M351.5,686 L355,686 L355,683 L369,683.5 A2.4,5.6 0 0 1 369,694.5 L355,694 L355,691 L351.5,691 Z"/>
<ellipse class="f" cx="351.5" cy="688.5" rx="1" ry="2.5"/>
<path class="t" d="M358,683.2 A2,5.4 0 0 0 358,694.2 M361.5,683.3 A2,5.4 0 0 0 361.5,694.3 M367,683.5 A2,5.5 0 0 0 367,694.5"/>
<ellipse class="m" cx="378.5" cy="688.8" rx="2" ry="4.6" transform="rotate(3 378.5 688.8)"/>
<path class="ld" d="M385.2,690.4 L391,690.4 L399.6,664.6 L404.4,664"/>
</g>
<g id="pipes">
<ellipse class="l" cx="569.7" cy="683.2" rx="1.2" ry="3.3" transform="rotate(32.3 569.7 683.2)"/>
<ellipse class="l" cx="571.6" cy="684.4" rx="1.2" ry="3.3" transform="rotate(32.3 571.6 684.4)"/>
<ellipse class="l" cx="573.5" cy="685.6" rx="1.2" ry="3.3" transform="rotate(32.3 573.5 685.6)"/>
<ellipse class="l" cx="575.4" cy="686.8" rx="1.2" ry="3.3" transform="rotate(32.3 575.4 686.8)"/>
<ellipse class="l" cx="577.2" cy="688" rx="1.2" ry="3.3" transform="rotate(32.3 577.2 688)"/>
<ellipse class="l" cx="579.1" cy="689.2" rx="1.2" ry="3.3" transform="rotate(32.3 579.1 689.2)"/>
<ellipse class="l" cx="581" cy="690.4" rx="1.2" ry="3.3" transform="rotate(32.3 581 690.4)"/>
<ellipse class="l" cx="553.6" cy="696.5" rx="1.3" ry="3.3" transform="rotate(32.2 553.6 696.5)"/>
<ellipse class="l" cx="555.6" cy="697.8" rx="1.3" ry="3.3" transform="rotate(32.2 555.6 697.8)"/>
<ellipse class="l" cx="557.5" cy="699" rx="1.3" ry="3.3" transform="rotate(32.2 557.5 699)"/>
<ellipse class="l" cx="559.5" cy="700.2" rx="1.3" ry="3.3" transform="rotate(32.2 559.5 700.2)"/>
<ellipse class="l" cx="561.5" cy="701.5" rx="1.3" ry="3.3" transform="rotate(32.2 561.5 701.5)"/>
<ellipse class="l" cx="563.4" cy="702.7" rx="1.3" ry="3.3" transform="rotate(32.2 563.4 702.7)"/>
<ellipse class="l" cx="565.4" cy="704" rx="1.3" ry="3.3" transform="rotate(32.2 565.4 704)"/>
<path class="f" d="M588.5,696.6 L584.6,694.6 A1.2,2.2 27.1 0 1 586.6,690.6 L590.5,692.6"/>
<ellipse class="f" cx="589.5" cy="694.6" rx="1.2" ry="2.2" transform="rotate(27.1 589.5 694.6)"/>
<path class="f" d="M591.2,700.4 L587.3,698 A2.6,4.2 31.6 0 1 591.7,690.8 L595.6,693.2"/>
<ellipse class="f" cx="593.4" cy="696.8" rx="2.6" ry="4.2" transform="rotate(31.6 593.4 696.8)"/>
<path class="t" d="M591.5,692.4 A2.6,4.2 30 0 0 587.6,699"/>
<path class="f" d="M572.4,710.3 L568.5,708.3 A1.2,2.2 27.1 0 1 570.5,704.3 L574.4,706.3"/>
<ellipse class="f" cx="573.4" cy="708.3" rx="1.2" ry="2.2" transform="rotate(27.1 573.4 708.3)"/>
<path class="f" d="M575.1,714.1 L571.2,711.7 A2.6,4.2 31.6 0 1 575.6,704.5 L579.5,706.9"/>
<ellipse class="f" cx="577.3" cy="710.5" rx="2.6" ry="4.2" transform="rotate(31.6 577.3 710.5)"/>
<path class="t" d="M575.4,706.1 A2.6,4.2 30 0 0 571.5,712.7"/>
<ellipse class="f" cx="601.9" cy="701.8" rx="2.8" ry="2.8"/>
<ellipse class="f" cx="585.9" cy="716.2" rx="2.8" ry="2.8"/>
<ellipse class="k" cx="650.6" cy="730.2" rx="3.8" ry="6.2" transform="rotate(25 650.6 730.2)"/>
<ellipse class="k" cx="632" cy="742.8" rx="3.8" ry="6.2" transform="rotate(25 632 742.8)"/>
<ellipse class="k" cx="610.4" cy="775.6" rx="2.2" ry="4" transform="rotate(25 610.4 775.6)"/>
<ellipse class="k" cx="618" cy="775.6" rx="2.2" ry="4" transform="rotate(25 618 775.6)"/>
<ellipse class="k" cx="626.9" cy="784.1" rx="2.2" ry="3.6" transform="rotate(40 626.9 784.1)"/>
<ellipse class="k" cx="601.6" cy="782" rx="2.4" ry="4.2" transform="rotate(25 601.6 782)"/>
<ellipse class="g2" cx="631.2" cy="802.8" rx="3.9" ry="6.3" transform="rotate(25 631.2 802.8)"/>
<path class="fine" d="M628.5,799 L634,806.5 M628,803 L632,808 M630.5,797.5 L634.5,803 M629,806 L633.5,798.5 M631,808.5 L634.8,802 M627.8,802.5 L631.5,797"/>
<ellipse class="l" cx="631.2" cy="802.8" rx="3.9" ry="6.3" transform="rotate(25 631.2 802.8)"/>
<path class="k" d="M646,804.2 A3.7,6.2 20 1 0 645,815"/>
<ellipse class="m" cx="554" cy="623.1" rx="3.5" ry="7.7"/>
<ellipse class="m" cx="567.3" cy="623.8" rx="3.5" ry="7.7"/>
<path class="f" d="M579,619.2 L608,620.5 V634.5 L579,634 Z"/>
<ellipse class="f" cx="579" cy="626.6" rx="2.8" ry="7.4"/>
<path class="f" d="M608,618.2 L612.5,618.4 V636.3 L608,636.1"/>
<ellipse class="f" cx="608" cy="627.2" rx="3.2" ry="9"/>
<ellipse class="f" cx="612.4" cy="627.4" rx="3.2" ry="9"/>
<path class="l" d="M612.6,621.5 L613.6,621.8 L613.2,633 L612.2,633.2 Z"/>
<path class="t" d="M581,619.4 A2.6,7.2 0 0 0 581,634"/>
<path class="t" d="M582.5,619.4 A2.6,7.2 0 0 0 582.5,634"/>
<path class="t" d="M584,619.4 A2.6,7.2 0 0 0 584,634"/>
<path class="t" d="M585.5,619.4 A2.6,7.2 0 0 0 585.5,634"/>
<path class="t" d="M587,619.4 A2.6,7.2 0 0 0 587,634"/>
<path class="t" d="M598,620.2 A2.6,7.2 0 0 1 598,634.4"/>
<path class="t" d="M599.5,620.2 A2.6,7.2 0 0 1 599.5,634.4"/>
<path class="t" d="M601,620.2 A2.6,7.2 0 0 1 601,634.4"/>
<path class="t" d="M602.5,620.2 A2.6,7.2 0 0 1 602.5,634.4"/>
<path class="t" d="M604,620.2 A2.6,7.2 0 0 1 604,634.4"/>
<path class="t" d="M605.5,620.2 A2.6,7.2 0 0 1 605.5,634.4"/>
<path class="t" d="M588,622.5 L591,631 L594,622.5 L597,631 M588,631 L591,622.5 L594,631 L597,622.5"/>
<line class="l" x1="461.5" y1="726.5" x2="461.5" y2="741.5"/>
<path class="f" d="M458.8,745 V752 L460.2,753.5 V757.5 H464.2 V753.5 L466,752 V745 Z"/>
<ellipse class="f" cx="462.4" cy="745" rx="3.6" ry="1.4"/>
<line class="t" x1="458.8" y1="748" x2="466" y2="748"/>
<line class="t" x1="458.8" y1="750" x2="466" y2="750"/>
<ellipse class="k" cx="462" cy="765.4" rx="3" ry="1.8"/>
<ellipse class="k" cx="462" cy="774" rx="5.4" ry="3.2"/>
<ellipse class="k" cx="462" cy="784.8" rx="6.3" ry="3.8"/>
<path class="f" d="M458.8,794 V802 L456,804 V820 A5.9,2.6 0 0 0 467.8,820 V804 L465,802 V794 Z"/>
<ellipse class="f" cx="461.9" cy="794" rx="3.1" ry="1.4"/>
<path class="t" d="M458.8,799 A3.1,2.2 0 0 0 465,799"/>
<path class="t" d="M456,802 A5.9,2.2 0 0 0 467.8,802"/>
<path class="t" d="M456,805.5 A5.9,2.2 0 0 0 467.8,805.5"/>
<path class="t" d="M456,808.5 A5.9,2.2 0 0 0 467.8,808.5"/>
<path class="t" d="M456,811.5 A5.9,2.2 0 0 0 467.8,811.5"/>
<path class="t" d="M456,814.5 A5.9,2.2 0 0 0 467.8,814.5"/>
<path class="t" d="M456,817.5 A5.9,2.2 0 0 0 467.8,817.5"/>
<path class="f" d="M458.8,835 V830.5 L460.6,828.5 L461.9,826.6 L463.2,828.5 L465,830.5 V835 A3.1,1.3 0 0 1 458.8,835 Z"/>
<path class="t" d="M458.8,831.5 A3.1,1.3 0 0 0 465,831.5"/>
<ellipse class="l" cx="462" cy="840.3" rx="1.7" ry="4" transform="rotate(90 462 840.3)"/>
<ellipse class="l" cx="462" cy="843.3" rx="1.7" ry="4" transform="rotate(90 462 843.3)"/>
<ellipse class="l" cx="462" cy="846.4" rx="1.7" ry="4" transform="rotate(90 462 846.4)"/>
<ellipse class="l" cx="462" cy="849.4" rx="1.7" ry="4" transform="rotate(90 462 849.4)"/>
<ellipse class="l" cx="462" cy="852.5" rx="1.7" ry="4" transform="rotate(90 462 852.5)"/>
<ellipse class="l" cx="462" cy="855.5" rx="1.7" ry="4" transform="rotate(90 462 855.5)"/>
<ellipse class="k" cx="462" cy="864" rx="6" ry="3.6"/>
<path class="f" d="M455.2,877 V887 A6.8,3.2 0 0 0 468.8,887 V877 Z"/>
<ellipse class="f" cx="462" cy="877" rx="6.8" ry="3.4"/>
<ellipse class="l" cx="462" cy="877" rx="4.2" ry="2"/>
<path class="t" d="M455.2,880 A6.8,3.2 0 0 0 468.8,880"/>
<path class="t" d="M455.2,882.5 A6.8,3.2 0 0 0 468.8,882.5"/>
<path class="t" d="M455.2,885 A6.8,3.2 0 0 0 468.8,885"/>
<path class="t" d="M455.2,887.5 A6.8,3.2 0 0 0 468.8,887.5"/>
<path class="f" d="M245.5,885.2 L262.6,865.3 L263.3,870.5 L288.2,858.6 L288.5,874.4 L263,887.7 L263.3,895 Z"/>
<path class="l" d="M262.6,865.3 L259.5,862.1 L244.8,884.6 L245.5,885.2 M263.8,866.2 L285,854.1 L288.2,858.6 M247.5,884.2 L261,866.6"/>
<text class="fw" transform="matrix(.6 -.318 -.04 1 262.6 886)">FWD</text>
</g>
</svg>
</body>
</html>
